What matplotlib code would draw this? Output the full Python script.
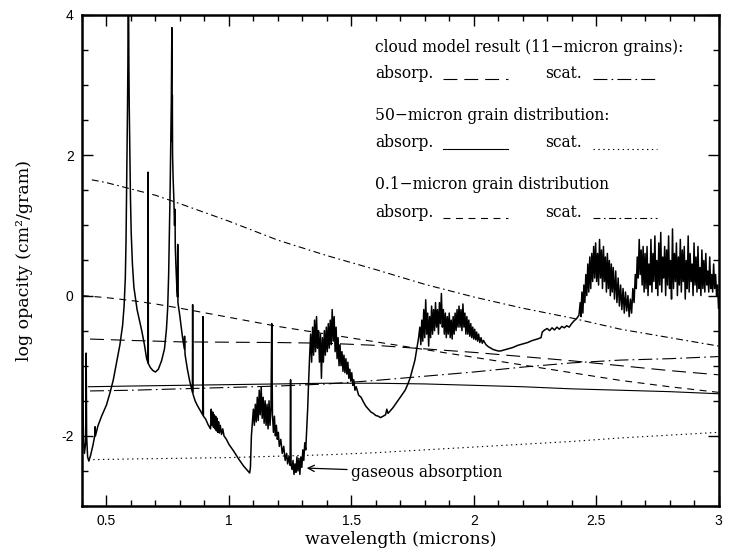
import matplotlib
matplotlib.use("Agg")
import matplotlib.pyplot as plt
from matplotlib.ticker import MultipleLocator, FuncFormatter

plt.rcParams['lines.scale_dashes'] = False

# smooth grain opacities (log cm^2/g)
cloud_wl = [0.433, 0.6, 0.8, 1.0, 1.2, 1.4, 1.6, 1.8, 2.0, 2.2, 2.4, 2.6, 2.8, 3.0]
cloud_abs = [-0.62, -0.64, -0.66, -0.665, -0.67, -0.68, -0.71, -0.76, -0.81, -0.87, -0.93, -1.00, -1.07, -1.13]
cloud_sca = [-1.36, -1.35, -1.33, -1.31, -1.29, -1.26, -1.21, -1.15, -1.09, -1.02, -0.96, -0.92, -0.90, -0.87]

fifty_wl = [0.426, 0.6, 0.8, 1.0, 1.2, 1.4, 1.6, 1.8, 2.0, 2.2, 2.4, 2.6, 2.8, 3.0]
fifty_abs = [-1.30, -1.29, -1.28, -1.27, -1.26, -1.25, -1.25, -1.26, -1.28, -1.30, -1.33, -1.35, -1.37, -1.40]
fifty_sca = [-2.34, -2.33, -2.32, -2.31, -2.29, -2.27, -2.24, -2.20, -2.16, -2.12, -2.08, -2.03, -1.99, -1.95]

small_abs_wl = [0.40, 0.5, 0.6, 0.7, 0.8, 1.0, 1.2, 1.4, 1.6, 1.8, 2.0, 2.2, 2.4, 2.6, 2.8, 3.0]
small_abs = [0.0, -0.03, -0.07, -0.12, -0.18, -0.31, -0.44, -0.55, -0.66, -0.77, -0.88, -0.99, -1.10, -1.21, -1.30, -1.38]
small_sca_wl = [0.44, 0.5, 0.6, 0.7, 0.8, 1.0, 1.2, 1.4, 1.6, 1.8, 2.0, 2.2, 2.4, 2.6, 2.8, 3.0]
small_sca = [1.65, 1.61, 1.52, 1.43, 1.31, 1.06, 0.79, 0.57, 0.37, 0.16, -0.02, -0.18, -0.32, -0.48, -0.60, -0.72]

gas_blue = [(0.400, 1.25), (0.402, -1.0), (0.406, -2.0), (0.410, -2.25), (0.415, -2.1),
            (0.417, -0.82), (0.419, -2.0), (0.423, -2.30), (0.428, -2.36), (0.435, -2.28),
            (0.445, -2.13), (0.452, -2.0), (0.4535, -1.87), (0.455, -2.0), (0.465, -1.86),
            (0.48, -1.72), (0.50, -1.56), (0.515, -1.38), (0.528, -1.2), (0.540, -0.98),
            (0.555, -0.70), (0.566, -0.42), (0.572, -0.15), (0.577, 0.25), (0.580, 0.80),
            (0.582, 1.40), (0.584, 2.00), (0.586, 2.70), (0.5875, 3.30), (0.589, 4.5),
            (0.590, 4.5), (0.5915, 3.30), (0.593, 2.70), (0.5955, 2.00), (0.598, 1.40),
            (0.601, 0.90), (0.606, 0.45), (0.612, 0.12), (0.625, -0.20), (0.635, -0.36),
            (0.644, -0.50), (0.655, -0.70), (0.664, -0.90), (0.670, -0.96), (0.6705, 1.76),
            (0.671, -0.97), (0.68, -1.03), (0.69, -1.07), (0.700, -1.09), (0.712, -1.05),
            (0.725, -0.93), (0.737, -0.76), (0.745, -0.48), (0.750, -0.18), (0.754, 0.30),
            (0.757, 0.90), (0.760, 1.50), (0.762, 2.00), (0.765, 2.80), (0.767, 3.82),
            (0.768, 2.20), (0.769, 2.86), (0.770, 2.00), (0.772, 1.70), (0.775, 1.40),
            (0.778, 1.00), (0.780, 1.23), (0.781, 0.70), (0.784, 0.40), (0.787, 0.15),
            (0.790, -0.02), (0.791, 0.73), (0.792, -0.10), (0.80, -0.30),
            (0.81, -0.58), (0.818, -0.76), (0.819, -0.58), (0.821, -0.84), (0.83, -1.04),
            (0.84, -1.22), (0.851, -1.38), (0.852, -0.13), (0.853, -1.40), (0.862, -1.50),
            (0.87, -1.56), (0.88, -1.62), (0.893, -1.70), (0.894, -0.30), (0.896, -1.72),
            (0.905, -1.76), (0.915, -1.84), (0.925, -1.90)]

gas_1um = [(0.928, -1.62), (0.931, -1.85), (0.934, -1.66), (0.937, -1.88), (0.940, -1.70),
           (0.943, -1.90), (0.946, -1.72), (0.949, -1.93), (0.952, -1.75), (0.955, -1.95),
           (0.958, -1.80), (0.961, -1.96), (0.965, -1.85), (0.970, -1.98), (0.975, -1.90),
           (0.98, -2.0), (0.99, -2.05), (1.0, -2.12), (1.02, -2.22), (1.04, -2.33),
           (1.06, -2.43), (1.075, -2.49), (1.085, -2.53), (1.088, -2.45), (1.092, -2.0),
           (1.097, -1.75), (1.100, -1.62), (1.104, -1.85), (1.108, -1.55), (1.112, -1.80),
           (1.116, -1.45), (1.120, -1.78), (1.124, -1.35), (1.128, -1.70), (1.132, -1.30),
           (1.136, -1.75), (1.140, -1.45), (1.144, -1.82), (1.148, -1.50), (1.152, -1.85),
           (1.156, -1.55), (1.160, -1.90), (1.164, -1.50), (1.168, -1.85), (1.172, -1.60),
           (1.175, -0.40), (1.178, -1.70), (1.182, -1.95), (1.186, -1.72), (1.190, -2.0),
           (1.194, -1.85), (1.198, -2.05), (1.202, -1.95), (1.206, -2.15), (1.212, -2.05),
           (1.218, -2.25), (1.224, -2.15), (1.230, -2.35), (1.236, -2.25), (1.240, -2.40),
           (1.245, -2.30), (1.250, -2.42), (1.252, -1.2), (1.254, -2.40), (1.258, -2.48),
           (1.262, -2.35), (1.266, -2.55), (1.270, -2.40), (1.274, -2.52), (1.278, -2.30),
           (1.282, -2.50), (1.286, -2.32), (1.290, -2.55), (1.294, -2.30), (1.298, -2.45),
           (1.302, -2.20), (1.306, -2.35), (1.310, -2.10), (1.314, -2.20), (1.318, -1.90),
           (1.322, -1.60), (1.326, -1.20), (1.330, -0.85)]

gas_15um = [(1.334, -0.55), (1.338, -0.95), (1.342, -0.45), (1.346, -0.85), (1.350, -0.35),
            (1.354, -0.80), (1.358, -0.30), (1.362, -0.75), (1.366, -0.50), (1.370, -0.95),
            (1.374, -0.55), (1.378, -1.18), (1.382, -0.60), (1.386, -0.95), (1.390, -0.50),
            (1.394, -0.85), (1.398, -0.45), (1.402, -0.80), (1.406, -0.40), (1.410, -0.75),
            (1.414, -0.35), (1.418, -0.70), (1.422, -0.20), (1.426, -0.65), (1.430, -0.30),
            (1.434, -0.80), (1.438, -0.45), (1.442, -0.90), (1.446, -0.60), (1.450, -1.00),
            (1.454, -0.70), (1.458, -1.00), (1.462, -0.80), (1.466, -1.08), (1.470, -0.85),
            (1.474, -1.10), (1.478, -0.90), (1.482, -1.12), (1.486, -0.95), (1.490, -1.18),
            (1.494, -1.05), (1.498, -1.22), (1.502, -1.10), (1.506, -1.28), (1.510, -1.20),
            (1.515, -1.35), (1.52, -1.30), (1.53, -1.42), (1.54, -1.45), (1.55, -1.52),
            (1.56, -1.58), (1.57, -1.62), (1.58, -1.66), (1.59, -1.68), (1.60, -1.71),
            (1.61, -1.72), (1.62, -1.74), (1.63, -1.72), (1.64, -1.70), (1.645, -1.62),
            (1.65, -1.68), (1.66, -1.64), (1.67, -1.60), (1.68, -1.55), (1.69, -1.50),
            (1.70, -1.45), (1.71, -1.40), (1.72, -1.35), (1.73, -1.27), (1.74, -1.18),
            (1.75, -1.05), (1.76, -0.92), (1.768, -0.75), (1.775, -0.60)]

gas_2um = [(1.780, -0.45), (1.784, -0.70), (1.788, -0.35), (1.792, -0.65), (1.796, -0.20),
           (1.800, -0.60), (1.804, -0.06), (1.808, -0.55), (1.812, -0.25), (1.816, -0.72),
           (1.820, -0.30), (1.824, -0.60), (1.828, -0.15), (1.832, -0.55), (1.836, -0.20),
           (1.840, -0.50), (1.844, -0.10), (1.848, -0.45), (1.852, -0.20), (1.856, -0.55),
           (1.860, -0.10), (1.864, -0.40), (1.868, 0.03), (1.872, -0.45), (1.876, -0.20),
           (1.880, -0.55), (1.884, -0.25), (1.888, -0.60), (1.892, -0.30), (1.896, -0.55),
           (1.900, -0.25), (1.904, -0.60), (1.908, -0.35), (1.912, -0.62), (1.916, -0.30),
           (1.920, -0.55), (1.924, -0.25), (1.928, -0.50), (1.932, -0.20), (1.936, -0.45),
           (1.940, -0.15), (1.944, -0.45), (1.948, -0.20), (1.952, -0.50), (1.956, -0.12),
           (1.960, -0.45), (1.964, -0.25), (1.968, -0.55), (1.972, -0.30), (1.976, -0.55),
           (1.980, -0.35), (1.984, -0.58), (1.988, -0.40), (1.992, -0.60), (1.996, -0.45),
           (2.000, -0.62), (2.004, -0.48), (2.008, -0.63), (2.012, -0.52), (2.016, -0.65),
           (2.020, -0.55), (2.025, -0.67), (2.030, -0.60), (2.035, -0.68), (2.040, -0.64),
           (2.05, -0.70), (2.06, -0.73), (2.07, -0.75), (2.08, -0.77), (2.09, -0.78),
           (2.10, -0.79), (2.11, -0.79), (2.12, -0.78), (2.14, -0.76), (2.16, -0.74),
           (2.18, -0.71), (2.20, -0.69), (2.22, -0.67), (2.24, -0.64), (2.26, -0.62),
           (2.275, -0.60), (2.28, -0.52), (2.29, -0.49), (2.30, -0.47), (2.31, -0.50),
           (2.32, -0.46), (2.33, -0.49), (2.34, -0.45), (2.35, -0.48), (2.36, -0.44),
           (2.37, -0.46), (2.38, -0.43), (2.39, -0.45), (2.40, -0.40), (2.41, -0.36),
           (2.42, -0.33), (2.43, -0.28)]

gas_25um = [(2.435, -0.10), (2.438, -0.30), (2.442, 0.05), (2.446, -0.25), (2.450, 0.15),
            (2.454, -0.10), (2.458, 0.30), (2.462, 0.0), (2.466, 0.45), (2.470, 0.05),
            (2.474, 0.55), (2.478, 0.10), (2.482, 0.60), (2.486, 0.20), (2.490, 0.70),
            (2.494, 0.25), (2.498, 0.75), (2.502, 0.20), (2.506, 0.60), (2.510, 0.15),
            (2.514, 0.80), (2.518, 0.25), (2.522, 0.65), (2.526, 0.10), (2.530, 0.70),
            (2.534, 0.20), (2.538, 0.55), (2.542, 0.05), (2.546, 0.60), (2.550, 0.10),
            (2.554, 0.50), (2.558, 0.0), (2.562, 0.45), (2.566, 0.05), (2.570, 0.40),
            (2.575, -0.05), (2.580, 0.35), (2.585, -0.10), (2.590, 0.25), (2.595, -0.15),
            (2.600, 0.15), (2.605, -0.20), (2.610, 0.10), (2.615, -0.25), (2.620, 0.05),
            (2.625, -0.22), (2.630, 0.00), (2.635, -0.30), (2.640, -0.05), (2.645, -0.25),
            (2.650, 0.10), (2.655, -0.10), (2.660, 0.30), (2.664, 0.10), (2.668, 0.55),
            (2.672, 0.25), (2.676, 0.80), (2.680, 0.30), (2.684, 0.65), (2.688, 0.15),
            (2.692, 0.70), (2.696, 0.05), (2.700, 0.60), (2.704, 0.10), (2.708, 0.70),
            (2.712, 0.00), (2.716, 0.45), (2.720, 0.15), (2.724, 0.80), (2.728, 0.05),
            (2.732, 0.60), (2.736, 0.20), (2.740, 0.85), (2.744, 0.10), (2.748, 0.50),
            (2.752, 0.00), (2.756, 0.75), (2.760, 0.15), (2.764, 0.90), (2.768, 0.05),
            (2.772, 0.55), (2.776, 0.25), (2.780, 0.70), (2.784, 0.00), (2.788, 0.65),
            (2.792, 0.15), (2.796, 0.85), (2.800, 0.10), (2.804, 0.50), (2.808, -0.05),
            (2.812, 0.95), (2.816, 0.10), (2.820, 0.60), (2.824, 0.20), (2.828, 0.75),
            (2.832, 0.00), (2.836, 0.55), (2.840, 0.15), (2.844, 0.80), (2.848, 0.05),
            (2.852, 0.65), (2.856, 0.20), (2.860, 0.70), (2.864, -0.05), (2.868, 0.50),
            (2.872, 0.10), (2.876, 0.85), (2.880, 0.05), (2.884, 0.60), (2.888, 0.20),
            (2.892, 0.45), (2.896, 0.00), (2.900, 0.75), (2.904, 0.15), (2.908, 0.55),
            (2.912, 0.05), (2.916, 0.70), (2.920, 0.10), (2.924, 0.40), (2.928, 0.00),
            (2.932, 0.65), (2.936, 0.10), (2.940, 0.50), (2.944, 0.05), (2.948, 0.60),
            (2.952, 0.15), (2.956, 0.35), (2.960, 0.05), (2.964, 0.55), (2.968, 0.10),
            (2.972, 0.30), (2.976, 0.05), (2.980, 0.45), (2.984, 0.10), (2.988, 0.30),
            (2.992, 0.00), (2.996, 0.15), (3.000, -0.18)]

x_ticks = [0.5, 1, 1.5, 2, 2.5, 3]
y_ticks = [-2, 0, 2, 4]

gas = gas_blue + gas_1um + gas_15um + gas_2um + gas_25um
gas_wl = [p[0] for p in gas]
gas_val = [p[1] for p in gas]

fig = plt.figure(figsize=(7.32, 5.51), dpi=100)
ax = fig.add_axes([0.112, 0.0817, 0.8696, 0.8911])

ax.plot(gas_wl, gas_val, color='black', lw=1.1)
ax.plot(cloud_wl, cloud_abs, color='black', lw=0.8, dashes=(10, 5))
ax.plot(cloud_wl, cloud_sca, color='black', lw=0.8, dashes=(10, 3, 1.2, 3))
ax.plot(fifty_wl, fifty_abs, color='black', lw=0.8)
ax.plot(fifty_wl, fifty_sca, color='black', lw=0.8, dashes=(1, 2.5))
ax.plot(small_abs_wl, small_abs, color='black', lw=0.8, dashes=(5, 4))
ax.plot(small_sca_wl, small_sca, color='black', lw=0.8, dashes=(5, 2.5, 1.2, 2.5))

ax.set_xlim(0.4, 3.0)
ax.set_ylim(-3, 4)
ax.xaxis.set_minor_locator(MultipleLocator(0.1))
ax.yaxis.set_minor_locator(MultipleLocator(0.5))
ax.set_xticks(x_ticks)
ax.set_yticks(y_ticks)
ax.xaxis.set_major_formatter(FuncFormatter(lambda v, p: ('%g' % v)))
ax.yaxis.set_major_formatter(FuncFormatter(lambda v, p: ('%g' % v)))
ax.tick_params(which='both', direction='in', top=True, right=True, width=1)
ax.tick_params(which='major', length=8, labelsize=10, pad=6)
ax.tick_params(which='minor', length=4)
for lab in ax.get_xticklabels() + ax.get_yticklabels():
    lab.set_family('Liberation Sans')
for s in ax.spines.values():
    s.set_linewidth(1.8)

serif = 'DejaVu Serif'
ax.set_xlabel('wavelength (microns)', family=serif, fontsize=12.5, labelpad=2)
ax.set_ylabel('log opacity (cm\u00b2/gram)', family=serif, fontsize=12.5, labelpad=20)

# hand-made legend
tx, sx = 0.460, 0.727
legend_rows = [
    (0.933, 'cloud model result (11\u2212micron grains):', None, None),
    (0.881, None, dict(dashes=(10, 5)), dict(dashes=(10, 3, 1.2, 3))),
    (0.796, '50\u2212micron grain distribution:', None, None),
    (0.740, None, dict(), dict(dashes=(1, 2.5))),
    (0.655, '0.1\u2212micron grain distribution', None, None),
    (0.598, None, dict(dashes=(5, 4)), dict(dashes=(5, 2.5, 1.2, 2.5))),
]
for y, title, absk, scak in legend_rows:
    if title:
        ax.text(tx, y, title, transform=ax.transAxes, family=serif, fontsize=11.2, va='center')
    else:
        ax.text(tx, y, 'absorp.', transform=ax.transAxes, family=serif, fontsize=11.2, va='center')
        ax.text(sx, y, 'scat.', transform=ax.transAxes, family=serif, fontsize=11.2, va='center')
        ax.plot([0.567, 0.669], [y - 0.012, y - 0.012], transform=ax.transAxes, color='black', lw=0.8, **absk)
        ax.plot([0.803, 0.903], [y - 0.012, y - 0.012], transform=ax.transAxes, color='black', lw=0.8, **scak)

ax.annotate('gaseous absorption', xy=(1.318, -2.46), xytext=(1.50, -2.52),
            family=serif, fontsize=11.2, va='center', ha='left',
            arrowprops=dict(arrowstyle='->', color='black', lw=0.9, shrinkA=1, shrinkB=0))

fig.savefig('out.png', dpi=100)
